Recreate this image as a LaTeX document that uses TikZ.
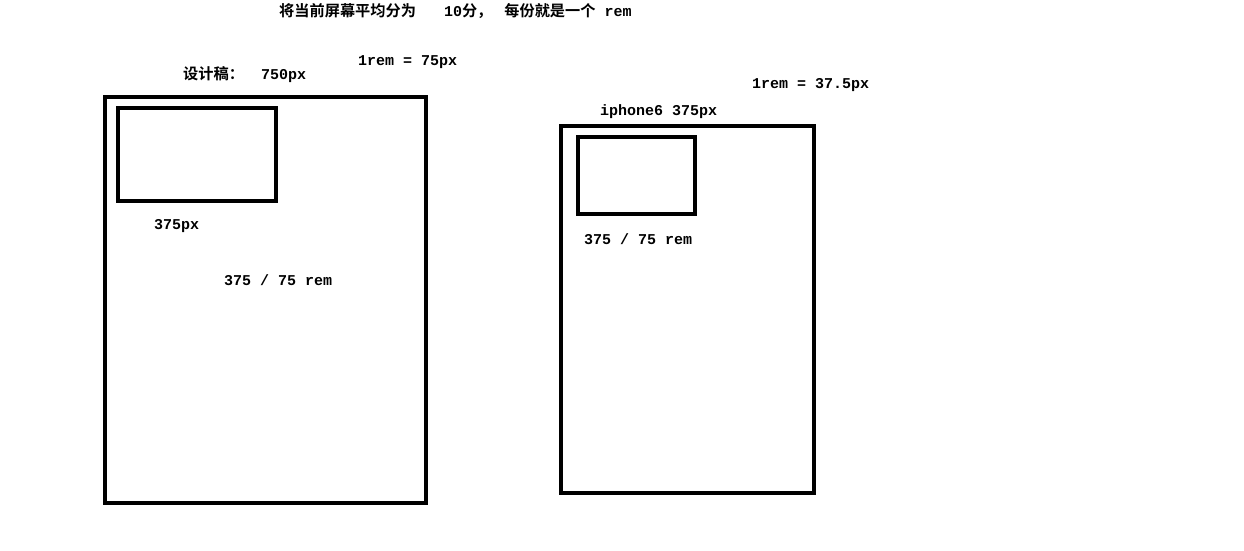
\documentclass[tikz,border=0pt]{standalone}
\usepackage{fontspec}
\setmonofont{Liberation Mono}
\newfontfamily\cjkf{Noto Sans CJK SC}[BoldFont={Noto Sans CJK SC Bold}]
\newcommand{\zh}[1]{{\fontsize{15.2}{16}\selectfont\cjkf #1}}
\begin{document}
\begin{tikzpicture}[x=1pt,y=-1pt,
  frame/.style={draw=black,line width=4pt},
  lbl/.style={anchor=west,inner sep=0pt,font=\fontsize{15}{16}\selectfont\ttfamily\bfseries}]
\useasboundingbox[fill=white] (0,0) rectangle (1244,551);
\draw[frame] (105,97) rectangle (426,503);
\draw[frame] (118,108) rectangle (276,201);
\draw[frame] (561,126) rectangle (814,493);
\draw[frame] (578,137) rectangle (695,214);
\node[lbl] (title) at (279,11) {\zh{将当前屏幕平均分为}\hspace{28pt}10\zh{分，}\hspace{12pt}\zh{每份就是一个}\hspace{9pt}rem};
\node[lbl] (design) at (183,75) {\zh{设计稿：}\hspace{17pt}750px};
\node[lbl] (rem1) at (358,62) {1rem = 75px};
\node[lbl] (rem2) at (752,85) {1rem = 37.5px};
\node[lbl] (iph) at (600,112) {iphone6 375px};
\node[lbl] (w375) at (154,226) {375px};
\node[lbl] (calc1) at (224,280) {375 / 75 rem};
\node[lbl] (calc2) at (584,239) {375 / 75 rem};
\end{tikzpicture}
\end{document}
